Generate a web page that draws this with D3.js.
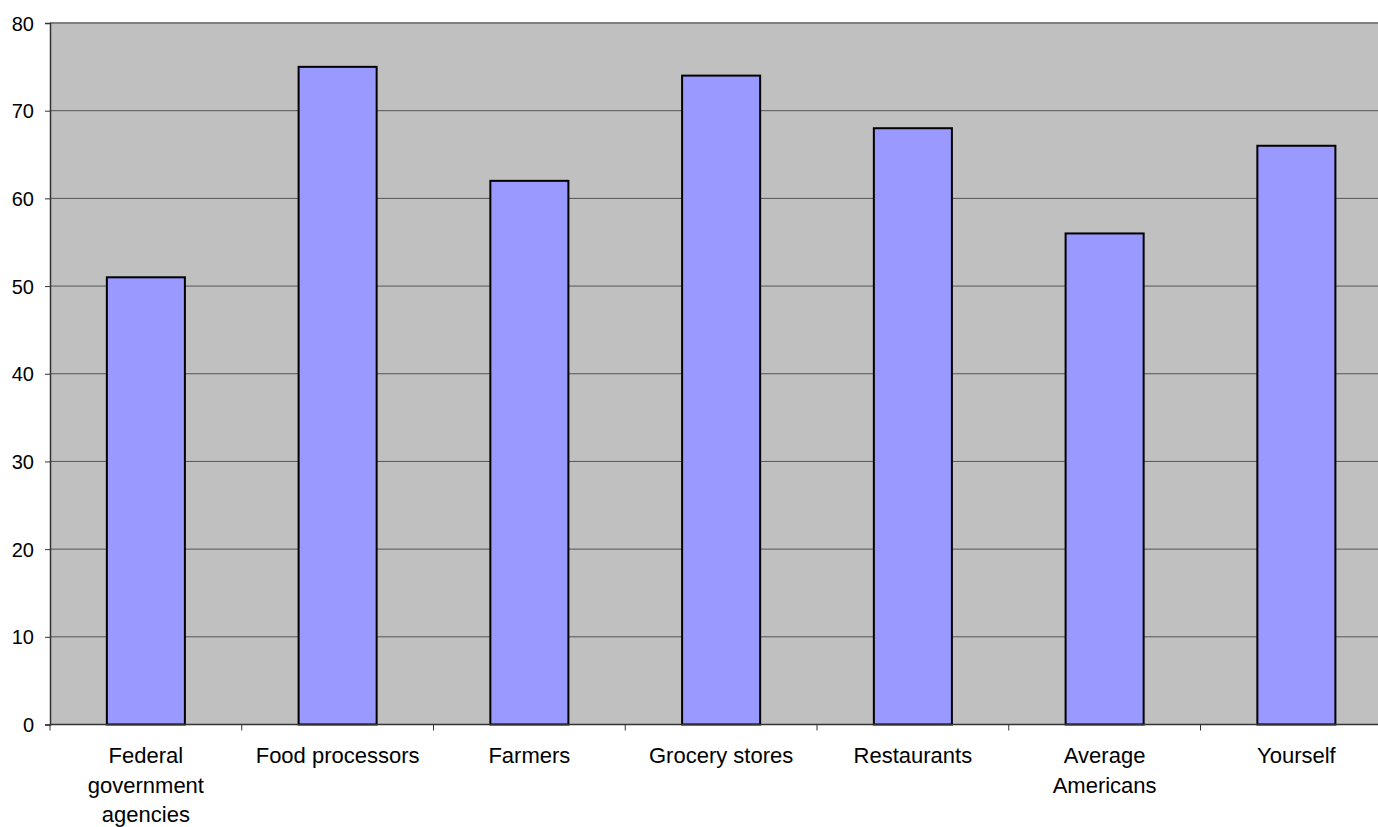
<!DOCTYPE html>
<html>
<head>
<meta charset="utf-8">
<script src="https://cdn.jsdelivr.net/npm/d3@7"></script>
<style>
  body { margin: 0; background: #fff; }
  svg { display: block; }
  text { font-family: "Liberation Sans", Arial, sans-serif; fill: #000; }
</style>
</head>
<body>
<main></main>
<script>
const width = 1378;
const height = 827;

const categories = [
    ['Federal', 'government', 'agencies'],
    ['Food processors'],
    ['Farmers'],
    ['Grocery stores'],
    ['Restaurants'],
    ['Average', 'Americans'],
    ['Yourself']
];
const values = [51, 75, 62, 74, 68, 56, 66];
const yTicks = [0, 10, 20, 30, 40, 50, 60, 70, 80];

const plotLeft = 50;
const plotTop = 23;
const plotBottom = 724.5;
const step = 191.75;

const svg = d3.select('main')
              .append('svg')
              .attr('width', width)
              .attr('height', height);

const xScale = d3.scaleBand()
                 .domain(d3.range(categories.length))
                 .range([plotLeft, plotLeft + step * categories.length])
                 .paddingInner(0.593)
                 .paddingOuter(0.593 / 2);

const yScale = d3.scaleLinear().domain([0, 80]).range([plotBottom, plotTop]);

// plot area
svg.append('rect')
   .attr('x', plotLeft)
   .attr('y', plotTop)
   .attr('width', width - plotLeft)
   .attr('height', plotBottom - plotTop)
   .attr('fill', '#c0c0c0');

// gridlines
svg.append('g')
   .selectAll('line')
   .data(yTicks.filter(d => d > 0))
   .enter()
   .append('line')
   .attr('x1', plotLeft)
   .attr('x2', width)
   .attr('y1', d => yScale(d))
   .attr('y2', d => yScale(d))
   .attr('stroke', d => d === 80 ? '#808080' : '#555')
   .attr('stroke-width', d => d === 80 ? 2 : 1);

// bars
svg.append('g')
   .selectAll('rect')
   .data(values)
   .enter()
   .append('rect')
   .attr('x', (d, i) => xScale(i))
   .attr('y', d => yScale(d))
   .attr('width', xScale.bandwidth())
   .attr('height', d => plotBottom - yScale(d))
   .attr('fill', '#9999ff')
   .attr('stroke', '#000')
   .attr('stroke-width', 2);

// y axis
const yAxis = svg.append('g')
   .attr('transform', 'translate(' + plotLeft + ',0)')
   .call(d3.axisLeft(yScale).tickValues(yTicks).tickSize(5).tickPadding(11));
yAxis.select('.domain').attr('stroke', '#333').attr('stroke-width', 1.5);
yAxis.selectAll('.tick line').attr('stroke', '#333');
yAxis.selectAll('.tick text').style('font-size', '20px').attr('dy', '0.35em');

// x axis
const tickPos = d3.range(categories.length).map(i => plotLeft + i * step);
svg.append('line')
   .attr('x1', plotLeft)
   .attr('x2', width)
   .attr('y1', plotBottom)
   .attr('y2', plotBottom)
   .attr('stroke', '#333')
   .attr('stroke-width', 1.5);
svg.append('g')
   .selectAll('line')
   .data(tickPos)
   .enter()
   .append('line')
   .attr('x1', d => d)
   .attr('x2', d => d)
   .attr('y1', plotBottom)
   .attr('y2', plotBottom + 6)
   .attr('stroke', '#333');

const labels = svg.append('g')
   .selectAll('text')
   .data(categories)
   .enter()
   .append('text')
   .attr('text-anchor', 'middle')
   .style('font-size', '22px')
   .attr('x', (d, i) => xScale(i) + xScale.bandwidth() / 2)
   .attr('y', 763);

labels.selectAll('tspan')
   .data(d => d)
   .enter()
   .append('tspan')
   .attr('x', function () { return this.parentNode.getAttribute('x'); })
   .attr('dy', (d, i) => i === 0 ? 0 : 29.5)
   .text(d => d);
</script>
</body>
</html>
